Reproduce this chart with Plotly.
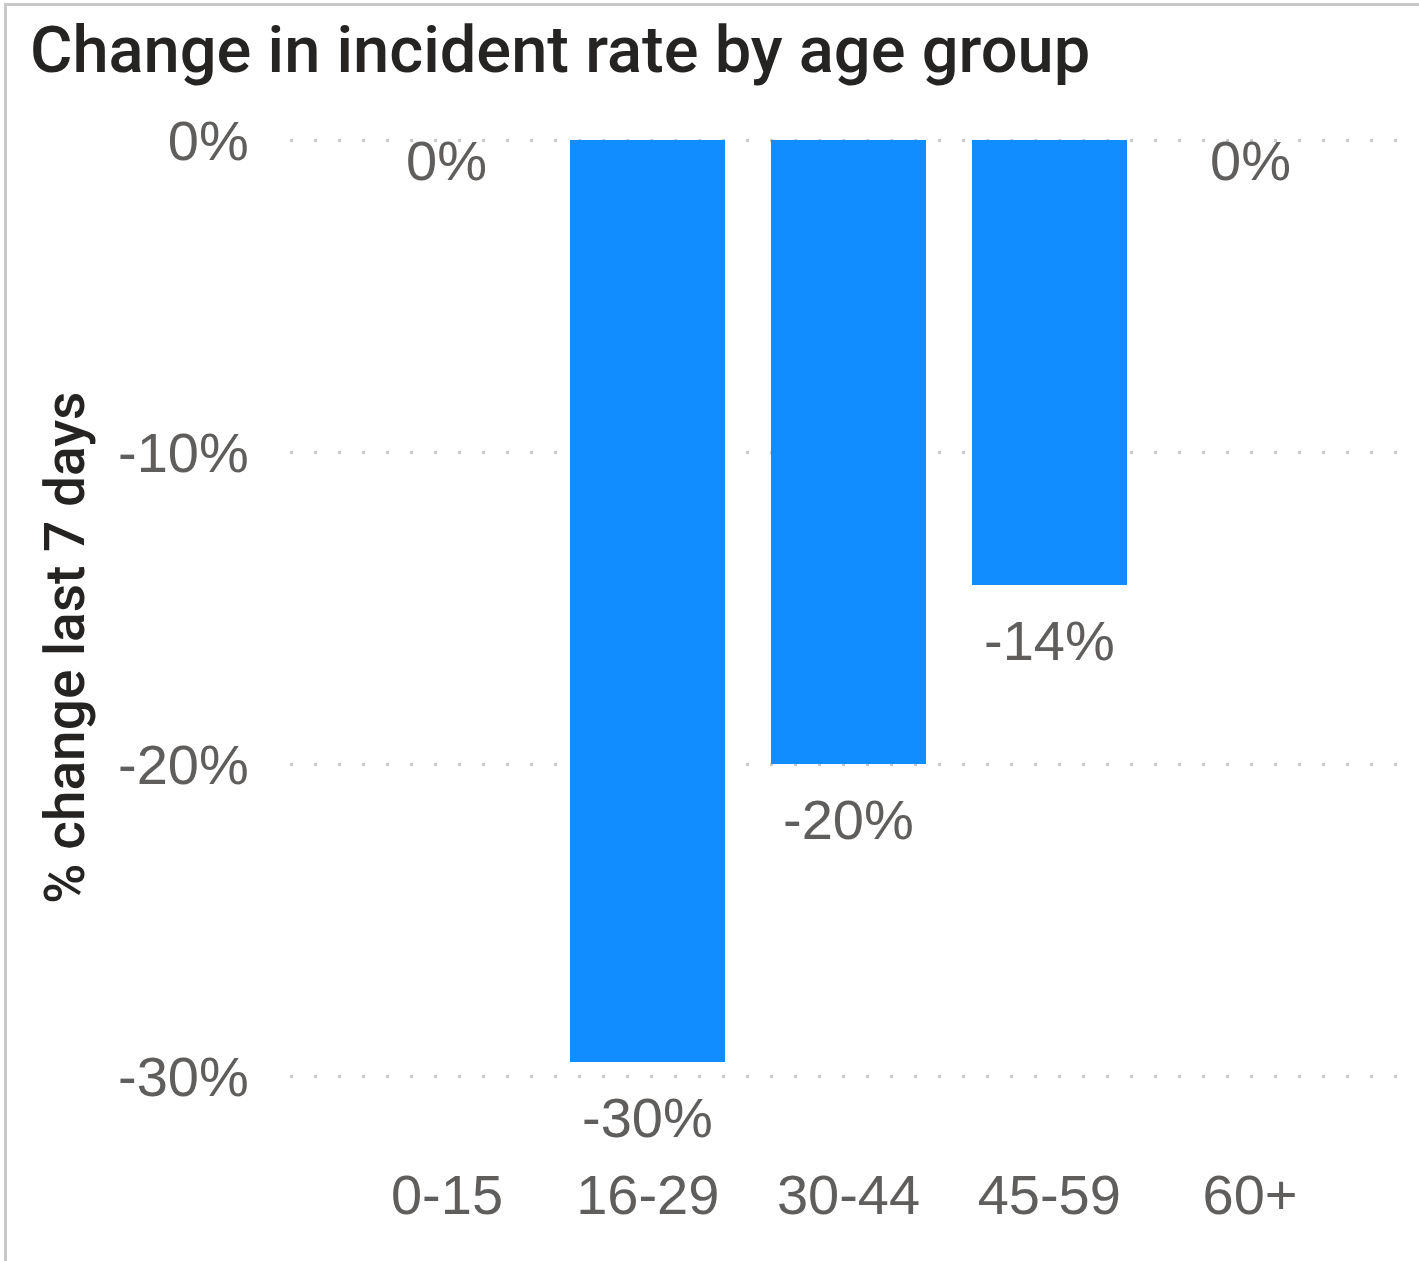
import plotly.graph_objects as go

# ---- data ----
categories = ["0-15", "16-29", "30-44", "45-59", "60+"]
pct_change = [0.0, -29.55, -20.0, -14.27, 0.0]
y_tick_vals = [0, -10, -20, -30]
y_tick_text = ["0%", "-10%", "-20%", "-30%"]
title_text = "Change in incident rate by age group"
y_title_text = "% change last 7 days"

W, H = 1419, 1261
PX_PER_UNIT = 31.2
TOP_PAD = 0.1
ML, MR, MB = 290, 19, 104
MT = round(140 - TOP_PAD * PX_PER_UNIT)
PW, PH = W - ML - MR, H - MT - MB
Y_MIN = TOP_PAD - PH / PX_PER_UNIT

BAR = "#118DFF"
GRAY_TXT = "#605E5C"
DARK_TXT = "#252423"
GRID = "#C8C8C8"
LABEL_FONT = "Liberation Sans, Arial, sans-serif"
TITLE_FONT = "Roboto, sans-serif"


def px_x(px):
    return (px - ML) / PW


def px_y(py):
    return 1 - (py - MT) / PH


fig = go.Figure(
    go.Bar(
        x=categories,
        y=pct_change,
        marker=dict(color=BAR, line=dict(width=0)),
        width=0.772,
        hoverinfo="skip",
    )
)

annotations = []
for c, v in zip(categories, pct_change):
    annotations.append(
        dict(
            x=c,
            y=v,
            xref="x",
            yref="y",
            text=f"{round(v):.0f}%",
            showarrow=False,
            yanchor="middle",
            xanchor="center",
            yshift=-55 if v < 0 else -20,
            font=dict(family=LABEL_FONT, size=56, color=GRAY_TXT),
        )
    )

annotations.append(
    dict(
        x=px_x(65),
        y=px_y(648),
        xref="paper",
        yref="paper",
        text=y_title_text,
        textangle=-90,
        showarrow=False,
        xanchor="center",
        yanchor="middle",
        font=dict(family=TITLE_FONT, size=55, color=DARK_TXT, weight=500),
    )
)

fig.update_layout(
    width=W,
    height=H,
    margin=dict(l=ML, r=MR, t=MT, b=MB, autoexpand=False),
    paper_bgcolor="white",
    plot_bgcolor="white",
    showlegend=False,
    bargap=0,
    title=dict(
        text=title_text,
        x=30 / W,
        xanchor="left",
        xref="container",
        y=1 - 49 / H,
        yanchor="middle",
        yref="container",
        font=dict(family=TITLE_FONT, size=65, color=DARK_TXT, weight=500),
    ),
    xaxis=dict(
        range=[-0.782, 4.747],
        showgrid=False,
        zeroline=False,
        showline=False,
        ticks="",
        tickfont=dict(family=LABEL_FONT, size=56, color=GRAY_TXT),
        fixedrange=True,
    ),
    yaxis=dict(
        range=[Y_MIN, TOP_PAD],
        tickvals=y_tick_vals,
        ticktext=y_tick_text,
        showgrid=True,
        gridcolor=GRID,
        gridwidth=3,
        griddash="3px,21px",
        zeroline=False,
        showline=False,
        ticks="outside",
        ticklen=29,
        tickcolor="rgba(0,0,0,0)",
        tickfont=dict(family=LABEL_FONT, size=56, color=GRAY_TXT),
        fixedrange=True,
    ),
    annotations=annotations,
    shapes=[
        dict(
            type="rect",
            xref="paper",
            yref="paper",
            x0=px_x(5.5),
            x1=px_x(W + 20),
            y0=px_y(H + 20),
            y1=px_y(4.5),
            line=dict(color=GRID, width=3),
            fillcolor="rgba(0,0,0,0)",
            layer="above",
        )
    ],
)

fig.write_html("out.html", config={"displayModeBar": False})
